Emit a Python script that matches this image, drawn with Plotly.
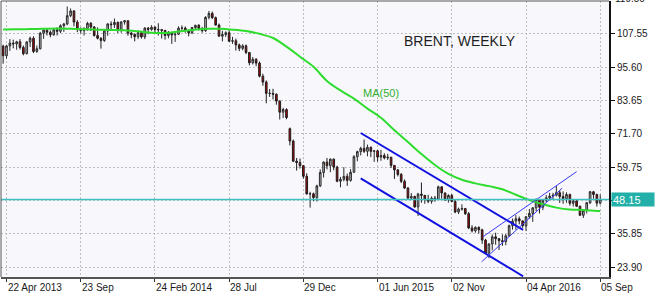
import pandas as pd
import plotly.graph_objects as go

# ---------------- data (weekly Brent) ----------------
start_week = "2013-04-15"

opens = [
    103.10, 99.65, 103.16, 104.19, 103.91, 104.64, 102.64, 100.39, 104.56, 105.93, 101.17, 102.16, 107.72,
    108.81, 108.07, 107.17, 108.95, 108.41, 110.40, 111.04, 114.01, 115.71, 111.70, 109.21, 108.63, 109.46,
    111.28, 109.94, 106.93, 105.91, 105.12, 108.50, 111.05, 110.80, 111.61, 108.83, 111.77, 112.18,
    107.78, 107.25, 106.48, 107.88, 106.40, 109.57, 109.08, 109.85, 109.07, 108.99, 108.73, 106.92, 107.76,
    107.13, 107.33, 109.53, 109.58, 108.59, 107.89, 109.75, 110.54, 109.41, 108.61, 113.41, 114.81, 113.30,
    110.64, 106.66, 107.24, 107.91, 104.84, 105.02, 103.53, 102.29, 103.19, 100.82, 97.11, 98.39, 97.00,
    92.31, 90.21, 86.16, 86.13, 85.86, 83.39, 79.41, 80.36, 73.50, 69.07, 61.85, 61.38, 60.24,
    56.42, 50.11, 50.17, 48.79, 52.99, 57.80, 61.52, 60.22, 62.58, 59.73, 54.67, 55.32, 56.41,
    54.95, 57.87, 63.45, 65.28, 66.46, 65.39, 66.81, 65.37, 65.56, 63.31, 63.87, 63.02, 63.26,
    60.32, 58.73, 57.10, 54.62, 52.21, 48.61, 49.19, 45.46, 50.05, 49.61, 48.14, 47.47, 48.60,
    48.13, 52.65, 50.46, 47.99, 49.56, 47.42, 43.61, 44.66, 44.86, 43.00, 37.93, 36.88, 38.10,
    37.28, 33.55, 28.94, 32.18, 34.74, 34.06, 33.36, 33.01, 35.10, 38.72, 40.39, 41.20, 40.44,
    38.67, 41.94, 43.10, 45.11, 48.13, 45.37, 47.83, 48.72, 49.32, 49.64, 50.54, 49.17, 48.41,
    49.90, 46.76, 47.61, 45.69, 42.46, 44.27, 46.97, 50.88, 49.92, 46.83,
]
highs = [
    103.6, 103.6, 105.6, 105.4, 105.0, 105.6, 103.3, 104.9, 106.5, 106.6, 103.3, 108.2, 109.2,
    109.3, 108.7, 109.5, 109.8, 110.9, 111.4, 117.3, 116.6, 116.0, 112.4, 109.8, 109.8, 111.8,
    111.7, 110.3, 109.8, 106.3, 108.9, 111.3, 112.0, 113.0, 111.9, 112.0, 112.4, 112.3,
    108.2, 107.6, 108.6, 108.5, 109.9, 109.9, 110.6, 110.3, 111.3, 109.2, 108.9, 108.5, 108.2,
    108.4, 110.2, 110.5, 110.1, 109.0, 110.0, 110.8, 111.0, 110.0, 113.8, 115.7, 115.5, 113.7,
    111.2, 108.6, 108.4, 108.8, 106.4, 105.8, 104.0, 103.8, 103.7, 101.0, 99.2, 98.8, 97.6,
    93.2, 90.8, 87.7, 87.8, 86.1, 83.6, 81.0, 80.8, 73.9, 69.6, 63.0, 62.8, 60.5,
    57.5, 50.9, 50.6, 53.4, 58.9, 61.8, 63.0, 62.8, 62.8, 60.2, 56.2, 59.7, 57.4,
    59.0, 64.0, 65.6, 67.0, 69.6, 67.8, 67.1, 65.8, 65.9, 65.9, 64.7, 64.5, 63.4,
    60.5, 59.0, 57.6, 55.3, 52.6, 50.4, 49.5, 50.5, 54.2, 49.7, 49.8, 49.2, 49.4,
    53.1, 52.9, 50.6, 50.0, 50.1, 48.0, 45.2, 46.4, 45.1, 43.6, 38.9, 38.5, 38.5,
    37.6, 34.0, 32.4, 35.6, 36.2, 34.3, 35.6, 35.7, 39.1, 41.3, 42.5, 42.0, 40.6,
    42.0, 44.7, 45.4, 48.5, 48.2, 48.3, 49.7, 50.5, 50.5, 52.9, 51.5, 51.0, 50.7,
    50.2, 48.1, 47.9, 45.9, 44.6, 47.2, 51.2, 51.2, 50.2, 49.9,
]
lows = [
    96.8, 98.6, 101.4, 102.3, 101.8, 101.9, 99.8, 100.1, 102.8, 100.6, 100.7, 101.9, 105.7,
    106.9, 106.3, 106.8, 106.9, 107.8, 108.2, 110.6, 113.5, 110.2, 108.1, 107.7, 106.9, 108.6,
    108.5, 106.5, 105.5, 102.2, 104.6, 106.8, 108.7, 109.6, 107.8, 107.9, 110.8, 106.8,
    105.9, 104.8, 105.6, 105.8, 105.6, 107.4, 108.6, 107.8, 106.9, 105.8, 105.4, 105.9, 103.9,
    104.6, 107.1, 108.5, 107.9, 106.6, 107.4, 109.0, 108.7, 107.9, 108.2, 112.7, 112.8, 110.5,
    106.6, 104.8, 106.4, 104.6, 103.9, 101.5, 101.3, 101.6, 100.2, 96.2, 96.5, 95.9, 91.9,
    88.9, 82.6, 84.9, 84.0, 82.1, 76.8, 77.3, 76.9, 67.5, 61.6, 58.5, 59.2, 55.6,
    49.9, 45.2, 47.5, 47.4, 52.6, 56.0, 58.9, 57.9, 58.6, 54.3, 52.5, 54.6, 53.0,
    54.5, 57.6, 61.8, 63.9, 64.8, 63.6, 63.3, 61.6, 61.7, 62.0, 62.5, 62.3, 59.4,
    55.5, 56.4, 54.0, 51.9, 48.3, 48.3, 45.1, 42.2, 47.0, 46.6, 46.8, 46.6, 47.3,
    48.0, 48.4, 47.6, 47.0, 47.2, 43.2, 42.9, 44.1, 42.6, 37.5, 36.3, 36.2, 35.9,
    32.2, 28.8, 27.1, 29.9, 31.9, 30.0, 31.5, 31.7, 34.8, 37.3, 37.3, 39.2, 38.0,
    36.8, 41.2, 40.1, 43.9, 43.1, 44.3, 47.2, 48.0, 48.1, 49.2, 46.9, 46.6, 46.9,
    45.9, 45.6, 45.4, 42.2, 41.5, 43.1, 46.5, 48.4, 45.6, 46.3,
]
closes = [
    99.65, 103.16, 104.19, 103.91, 104.64, 102.64, 100.39, 104.56, 105.93, 101.17, 102.16, 107.72, 108.81,
    108.07, 107.17, 108.95, 108.41, 110.40, 111.04, 114.01, 115.71, 111.70, 109.21, 108.63, 109.46, 111.28,
    109.94, 106.93, 105.91, 105.12, 108.50, 111.05, 110.80, 111.61, 108.83, 111.77, 112.18, 107.78,
    107.25, 106.48, 107.88, 106.40, 109.57, 109.08, 109.85, 109.07, 108.99, 108.73, 106.92, 107.76, 107.13,
    107.33, 109.53, 109.58, 108.59, 107.89, 109.75, 110.54, 109.41, 108.61, 113.41, 114.81, 113.30, 110.64,
    106.66, 107.24, 107.91, 104.84, 105.02, 103.53, 102.29, 103.19, 100.82, 97.11, 98.39, 97.00, 92.31,
    90.21, 86.16, 86.13, 85.86, 83.39, 79.41, 80.36, 77.50, 69.07, 61.85, 61.38, 60.24, 56.42,
    50.11, 50.17, 48.79, 52.99, 57.80, 61.52, 60.22, 62.58, 59.73, 54.67, 55.32, 56.41, 54.95,
    57.87, 63.45, 65.28, 66.46, 65.39, 66.81, 65.37, 65.56, 63.31, 63.87, 63.02, 63.26, 60.32,
    58.73, 57.10, 54.62, 52.21, 48.61, 49.19, 45.46, 50.05, 49.61, 48.14, 47.47, 48.60, 48.13,
    52.65, 50.46, 47.99, 49.56, 47.42, 43.61, 44.66, 44.86, 43.00, 37.93, 36.88, 38.10, 37.28,
    33.55, 28.94, 32.18, 34.74, 34.06, 33.36, 33.01, 35.10, 38.72, 40.39, 41.20, 40.44, 38.67,
    41.94, 43.10, 45.11, 48.13, 45.37, 47.83, 48.72, 49.32, 49.64, 50.54, 49.17, 48.41, 49.90,
    46.76, 47.61, 45.69, 42.46, 44.27, 46.97, 50.88, 49.92, 46.83, 48.15,
]

# 50-week moving average, every 4 weeks (plus last week)
ma50 = [
    109.06, 109.1, 109.2, 109.3, 109.4, 109.3, 109.1, 109.0, 108.9, 108.8, 108.4, 107.9,
    107.8, 108.3, 108.9, 109.3, 109.3, 109.0, 108.5, 107.5, 106.0, 102.9, 99.3, 95.7,
    90.6, 87.2, 84.3, 80.7, 77.4, 72.9, 68.7, 64.4, 60.5, 57.3, 55.2, 53.9,
    52.9, 51.8, 49.8, 47.9, 46.4, 45.2, 44.5, 44.35, 44.0, 44.0,
]

# hand-drawn trend channels (date, price endpoints)
down_upper_x = ["2015-04-27", "2016-03-29"]
down_upper_y = [71.95, 37.2]
down_lower_x = ["2015-04-27", "2016-03-29"]
down_lower_y = [55.7, 20.6]
up_upper_x = ["2016-01-06", "2016-07-18"]
up_upper_y = [34.8, 58.1]
up_lower_x = ["2016-01-03", "2016-06-18"]
up_lower_y = [25.8, 52.2]

last_price = 48.15

y_ticks = [23.90, 35.85, 47.80, 59.75, 71.70, 83.65, 95.60, 107.55]
y_top_label = 119.50
y_range = [20.33, 119.27]
x_tick_dates = ["2013-04-22", "2013-09-23", "2014-02-24", "2014-07-28", "2014-12-29",
                "2015-06-01", "2015-11-02", "2016-04-04", "2016-09-05"]
x_tick_labels = ["22 Apr 2013", "23 Sep", "24 Feb 2014", "28 Jul", "29 Dec",
                 "01 Jun 2015", "02 Nov", "04 Apr 2016", "05 Sep"]

# ---------------- figure ----------------
dates = pd.date_range(start_week, periods=len(closes), freq="7D")
ma_dates = list(dates[0::4]) + [dates[-1]]

FONT = "Liberation Sans, Arial, sans-serif"
TICK_SIZE = 10

fig = go.Figure()

fig.add_trace(go.Scatter(
    x=ma_dates, y=ma50, mode="lines", line=dict(color="#2EDC2E", width=2, shape="spline"),
    hoverinfo="skip", showlegend=False))

fig.add_trace(go.Candlestick(
    x=dates, open=opens, high=highs, low=lows, close=closes,
    increasing=dict(fillcolor="#B9B9B9", line=dict(color="#2A2A2A", width=1)),
    decreasing=dict(fillcolor="#B40000", line=dict(color="#1E1E1E", width=1)),
    whiskerwidth=0, showlegend=False, hoverinfo="skip"))

for xs, ys, w, c in [(down_upper_x, down_upper_y, 2, "#1010E0"),
                     (down_lower_x, down_lower_y, 2, "#1010E0"),
                     (up_upper_x, up_upper_y, 1, "#3A3AF5"),
                     (up_lower_x, up_lower_y, 1, "#3A3AF5")]:
    fig.add_trace(go.Scatter(x=xs, y=ys, mode="lines", line=dict(color=c, width=w),
                             hoverinfo="skip", showlegend=False))

# current price line
fig.add_shape(type="line", xref="paper", x0=0, x1=1, yref="y", y0=last_price, y1=last_price,
              line=dict(color="#3FC1C1", width=1.5), layer="above")
# left and top frame
fig.add_shape(type="line", xref="paper", yref="paper", x0=0, x1=0, y0=0, y1=1,
              line=dict(color="#555555", width=1))
fig.add_shape(type="line", xref="paper", yref="paper", x0=0, x1=1, y0=1, y1=1,
              line=dict(color="#555555", width=1))

annotations = []
for d, t in zip(x_tick_dates, x_tick_labels):
    annotations.append(dict(x=d, xref="x", y=0, yref="paper", text=t, showarrow=False,
                            xanchor="left", yanchor="top", yshift=-3, xshift=-1,
                            font=dict(family=FONT, size=TICK_SIZE, color="#1A1A1A")))
# top price label (just above the plotted range), partly cut by the window edge as in the original
top_label_paper_y = (y_top_label - y_range[0]) / (y_range[1] - y_range[0])
annotations.append(dict(x=1, xref="paper", y=top_label_paper_y, yref="paper",
                        text=f"{y_top_label:.2f}",
                        showarrow=False, xanchor="left", yanchor="middle", xshift=4, yshift=2,
                        font=dict(family=FONT, size=TICK_SIZE, color="#1A1A1A")))
annotations.append(dict(x=0.6595, xref="paper", y=0.855, yref="paper", text="BRENT, WEEKLY",
                        showarrow=False, xanchor="left", yanchor="middle",
                        font=dict(family=FONT, size=14, color="#1E1E1E")))
annotations.append(dict(x=0.592, xref="paper", y=0.667, yref="paper", text="MA(50)",
                        showarrow=False, xanchor="left", yanchor="middle",
                        font=dict(family=FONT, size=11, color="#2FAF2F")))
annotations.append(dict(x=1, xref="paper", y=last_price, yref="y", text=f"{last_price:.2f}",
                        showarrow=False, xanchor="left", yanchor="middle", xshift=2,
                        bgcolor="#22B0A8", width=40, height=11, align="left", borderpad=1,
                        font=dict(family=FONT, size=11, color="white")))

fig.update_layout(
    width=660, height=298,
    margin=dict(l=1, r=51, t=1, b=21),
    paper_bgcolor="white", plot_bgcolor="#F8F8FC",
    showlegend=False,
    annotations=annotations,
    xaxis=dict(
        type="date", range=["2013-04-10 14:00", "2016-09-23 05:00"],
        rangeslider=dict(visible=False),
        tickvals=x_tick_dates, showticklabels=False,
        ticks="outside", ticklen=3, tickcolor="#333333",
        showgrid=True, gridcolor="#BEBEBE", griddash="2px,2px", gridwidth=1,
        showline=True, linecolor="#555555", linewidth=2, mirror=False,
        zeroline=False, fixedrange=True,
    ),
    yaxis=dict(
        side="right", range=y_range,
        tickvals=y_ticks,
        # the 47.80 label sits under the current-price box in the original
        ticktext=["" if abs(v - 47.80) < 1e-9 else f"{v:.2f}" for v in y_ticks],
        ticks="outside", ticklen=4, tickcolor="#111111",
        tickfont=dict(family=FONT, size=TICK_SIZE, color="#1A1A1A"),
        showgrid=True, gridcolor="#BEBEBE", griddash="2px,2px", gridwidth=1,
        showline=True, linecolor="#111111", linewidth=2, mirror=False,
        zeroline=False, fixedrange=True,
    ),
)

fig.write_html("out.html")
